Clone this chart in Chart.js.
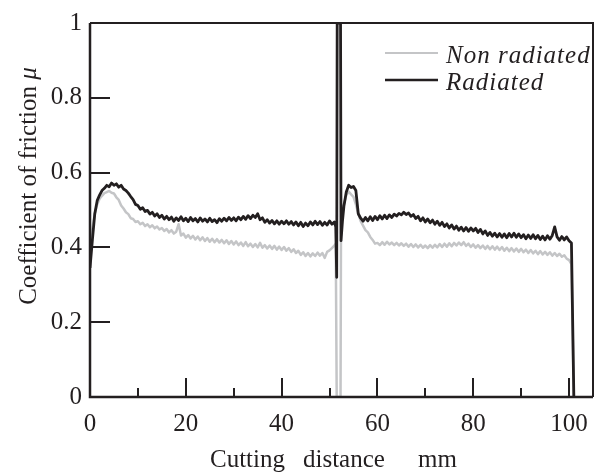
<!DOCTYPE html>
<html>
<head>
<meta charset="UTF-8">
<script src="https://cdn.jsdelivr.net/npm/chart.js@4.4.1/dist/chart.umd.min.js"></script>
<style>
  html, body { margin: 0; padding: 0; background: #fff; }
  #wrap { width: 602px; height: 473px; }
</style>
</head>
<body>
<div id="wrap"><canvas id="c" width="602" height="473"></canvas></div>
<script>
// cutting distance (mm)
const distance = [
  0, 0.5, 1, 1.5, 2, 2.5, 3, 3.5, 4, 4.5,
  5, 5.5, 6, 6.5, 7, 7.5, 8, 8.5, 9, 9.5,
  10, 10.5, 11, 11.5, 12, 12.5, 13, 13.5, 14, 14.5,
  15, 15.5, 16, 16.5, 17, 17.5, 18, 18.5, 19, 19.5,
  20, 20.5, 21, 21.5, 22, 22.5, 23, 23.5, 24, 24.5,
  25, 25.5, 26, 26.5, 27, 27.5, 28, 28.5, 29, 29.5,
  30, 30.5, 31, 31.5, 32, 32.5, 33, 33.5, 34, 34.5,
  35, 35.5, 36, 36.5, 37, 37.5, 38, 38.5, 39, 39.5,
  40, 40.5, 41, 41.5, 42, 42.5, 43, 43.5, 44, 44.5,
  45, 45.5, 46, 46.5, 47, 47.5, 48, 48.5, 49, 49.5,
  50, 50.5, 51,
  51.3, 51.5, 51.6, 52.3, 52.4, 52.7,
  53, 53.5, 54, 54.5, 55, 55.5, 56, 56.5, 57, 57.5,
  58, 58.5, 59, 59.5, 60, 60.5, 61, 61.5, 62, 62.5,
  63, 63.5, 64, 64.5, 65, 65.5, 66, 66.5, 67, 67.5,
  68, 68.5, 69, 69.5, 70, 70.5, 71, 71.5, 72, 72.5,
  73, 73.5, 74, 74.5, 75, 75.5, 76, 76.5, 77, 77.5,
  78, 78.5, 79, 79.5, 80, 80.5, 81, 81.5, 82, 82.5,
  83, 83.5, 84, 84.5, 85, 85.5, 86, 86.5, 87, 87.5,
  88, 88.5, 89, 89.5, 90, 90.5, 91, 91.5, 92, 92.5,
  93, 93.5, 94, 94.5, 95, 95.5, 96, 96.5, 97, 97.5,
  98, 98.5, 99, 99.5, 100, 100.5,
  101
]

// coefficient of friction, non radiated tool
const nonRadiated = [
  0.40, 0.45, 0.49, 0.515, 0.53, 0.538, 0.545, 0.548, 0.551, 0.546,
  0.544, 0.534, 0.527, 0.512, 0.504, 0.494, 0.489, 0.478, 0.476, 0.468,
  0.470, 0.462, 0.466, 0.457, 0.462, 0.454, 0.459, 0.451, 0.456, 0.448,
  0.452, 0.444, 0.449, 0.440, 0.446, 0.437, 0.442, 0.462, 0.432, 0.437,
  0.426, 0.433, 0.424, 0.431, 0.421, 0.429, 0.419, 0.427, 0.417, 0.425,
  0.415, 0.423, 0.414, 0.422, 0.413, 0.420, 0.411, 0.419, 0.409, 0.417,
  0.408, 0.416, 0.406, 0.413, 0.404, 0.414, 0.403, 0.410, 0.401, 0.409,
  0.400, 0.412, 0.399, 0.406, 0.397, 0.405, 0.396, 0.404, 0.394, 0.402,
  0.393, 0.401, 0.391, 0.398, 0.388, 0.395, 0.385, 0.391, 0.380, 0.387,
  0.377, 0.385, 0.376, 0.384, 0.377, 0.386, 0.378, 0.385, 0.372, 0.388,
  0.392, 0.398, 0.405,
  0.41, 0, 0, 0, 0.47, 0.49,
  0.515, 0.54, 0.549, 0.542, 0.535, 0.515, 0.49, 0.470, 0.458, 0.446,
  0.440, 0.428, 0.420, 0.410, 0.412, 0.406, 0.414, 0.407, 0.415, 0.408,
  0.413, 0.406, 0.412, 0.405, 0.411, 0.404, 0.410, 0.402, 0.409, 0.401,
  0.408, 0.400, 0.407, 0.399, 0.405, 0.398, 0.406, 0.399, 0.407, 0.400,
  0.409, 0.401, 0.410, 0.402, 0.411, 0.403, 0.412, 0.405, 0.413, 0.406,
  0.414, 0.404, 0.410, 0.401, 0.408, 0.399, 0.406, 0.398, 0.405, 0.396,
  0.404, 0.395, 0.403, 0.394, 0.402, 0.393, 0.401, 0.391, 0.399, 0.390,
  0.398, 0.389, 0.397, 0.388, 0.396, 0.387, 0.394, 0.385, 0.393, 0.384,
  0.391, 0.382, 0.390, 0.381, 0.388, 0.380, 0.387, 0.378, 0.385, 0.377,
  0.383, 0.375, 0.379, 0.370, 0.366, 0.355,
  0
]

// coefficient of friction, radiated tool
const radiated = [
  0.345, 0.42, 0.49, 0.525, 0.54, 0.552, 0.558, 0.566, 0.562, 0.572,
  0.566, 0.570, 0.561, 0.566, 0.556, 0.552, 0.545, 0.536, 0.528, 0.515,
  0.512, 0.502, 0.506, 0.496, 0.499, 0.489, 0.494, 0.484, 0.490, 0.480,
  0.486, 0.476, 0.483, 0.474, 0.481, 0.470, 0.479, 0.472, 0.482, 0.471,
  0.478, 0.469, 0.480, 0.471, 0.477, 0.468, 0.479, 0.470, 0.476, 0.468,
  0.478, 0.469, 0.474, 0.466, 0.477, 0.470, 0.478, 0.471, 0.480, 0.472,
  0.479, 0.471, 0.481, 0.474, 0.483, 0.475, 0.485, 0.477, 0.486, 0.480,
  0.490, 0.474, 0.479, 0.467, 0.474, 0.465, 0.472, 0.463, 0.471, 0.462,
  0.470, 0.463, 0.471, 0.462, 0.469, 0.460, 0.468, 0.458, 0.467, 0.456,
  0.465, 0.458, 0.468, 0.460, 0.470, 0.461, 0.469, 0.459, 0.467, 0.460,
  0.471, 0.462, 0.468,
  0.455, 0.32, 1.0, 1.0, 0.418, 0.47,
  0.51, 0.548, 0.566, 0.560, 0.563, 0.552, 0.49, 0.478, 0.470, 0.480,
  0.471, 0.482, 0.472, 0.483, 0.474, 0.485, 0.476, 0.486, 0.477, 0.487,
  0.480, 0.489, 0.484, 0.491, 0.487, 0.494, 0.488, 0.492, 0.483, 0.488,
  0.477, 0.483, 0.471, 0.479, 0.468, 0.476, 0.466, 0.473, 0.462, 0.470,
  0.459, 0.467, 0.456, 0.463, 0.452, 0.460, 0.449, 0.457, 0.446, 0.454,
  0.444, 0.453, 0.443, 0.452, 0.444, 0.451, 0.440, 0.448, 0.436, 0.444,
  0.432, 0.440, 0.430, 0.438, 0.428, 0.437, 0.427, 0.436, 0.426, 0.437,
  0.428, 0.438, 0.427, 0.436, 0.426, 0.434, 0.423, 0.433, 0.424, 0.434,
  0.423, 0.432, 0.421, 0.430, 0.420, 0.431, 0.422, 0.432, 0.455, 0.428,
  0.419, 0.429, 0.420, 0.428, 0.418, 0.412,
  0
]

const seriesNames = ['Non radiated', 'Radiated']
const yTicks = [0, 0.2, 0.4, 0.6, 0.8, 1]
const xMajor = [20, 40, 60, 80, 100]
const xMinor = [10, 30, 50, 70, 90]

const INK = '#231f20'
const GREY = '#c4c5c7'
const FONT = "'Liberation Serif', 'Times New Roman', serif"

const pts = ys => ys.map((y, i) => ({ x: distance[i], y }))

// frame, inward ticks, legend and axis titles
const decor = {
  id: 'decor',
  afterDraw(chart) {
    const { ctx, chartArea: a, scales: { x, y } } = chart
    ctx.save()
    ctx.strokeStyle = INK
    ctx.lineCap = 'butt'

    // box
    ctx.lineWidth = 2
    ctx.beginPath()
    ctx.moveTo(a.left, a.top); ctx.lineTo(a.right, a.top); ctx.lineTo(a.right, a.bottom)
    ctx.stroke()
    ctx.lineWidth = 2.5
    ctx.beginPath()
    ctx.moveTo(a.left, a.top); ctx.lineTo(a.left, a.bottom); ctx.lineTo(a.right, a.bottom)
    ctx.stroke()

    ctx.lineWidth = 2
    ctx.beginPath()
    yTicks.slice(1, -1).forEach(v => {
      const py = Math.round(y.getPixelForValue(v))
      ctx.moveTo(a.left, py); ctx.lineTo(a.left + 20, py)
    })
    xMajor.forEach(v => {
      const px = Math.round(x.getPixelForValue(v))
      ctx.moveTo(px, a.bottom); ctx.lineTo(px, a.bottom - 19)
    })
    xMinor.forEach(v => {
      const px = Math.round(x.getPixelForValue(v))
      ctx.moveTo(px, a.bottom); ctx.lineTo(px, a.bottom - 9)
    })
    ctx.stroke()

    // legend
    const lx = a.left + 295
    const rows = [[GREY, 2, 53], [INK, 2.5, 80]]
    rows.forEach(([col, w, ly], i) => {
      ctx.strokeStyle = col
      ctx.lineWidth = w
      ctx.beginPath()
      ctx.moveTo(lx, ly); ctx.lineTo(lx + 53, ly)
      ctx.stroke()
      ctx.fillStyle = INK
      ctx.font = 'italic 25px ' + FONT
      ctx.letterSpacing = '1px'
      ctx.textBaseline = 'alphabetic'
      ctx.textAlign = 'left'
      ctx.fillText(seriesNames[i], lx + 61, ly + 10)
      ctx.letterSpacing = '0px'
    })

    // axis titles
    ctx.fillStyle = INK
    ctx.font = '25px ' + FONT
    ctx.textBaseline = 'alphabetic'
    ctx.textAlign = 'left'
    ctx.fillText('Cutting', 210, 467)
    ctx.fillText('distance', 303, 467)
    ctx.fillText('mm', 418, 467)

    ctx.translate(36, 186)
    ctx.rotate(-Math.PI / 2)
    const t1 = 'Coefficient of friction '
    const w1 = ctx.measureText(t1).width
    ctx.font = 'italic 25px ' + FONT
    const w2 = ctx.measureText('\u03bc').width
    ctx.font = '25px ' + FONT
    ctx.fillText(t1, -(w1 + w2) / 2, 0)
    ctx.font = 'italic 25px ' + FONT
    ctx.fillText('\u03bc', -(w1 + w2) / 2 + w1, 0)
    ctx.restore()
  }
}

new Chart(document.getElementById('c'), {
  type: 'line',
  data: {
    datasets: [
      { label: seriesNames[0], data: pts(nonRadiated), borderColor: GREY, borderWidth: 2.5, order: 1 },
      { label: seriesNames[1], data: pts(radiated), borderColor: INK, borderWidth: 2.8, order: 0 }
    ]
  },
  options: {
    responsive: false,
    animation: false,
    devicePixelRatio: 1,
    layout: { padding: { top: 20, right: 9, left: 0, bottom: 0 } },
    elements: { point: { radius: 0 }, line: { tension: 0, borderJoinStyle: 'round' } },
    plugins: { legend: { display: false }, tooltip: { enabled: false } },
    scales: {
      x: {
        type: 'linear', min: 0, max: 105,
        grid: { display: false, drawTicks: false },
        border: { display: false },
        afterFit: s => { s.height = 76 },
        ticks: {
          stepSize: 20, includeBounds: false, padding: 12, maxRotation: 0,
          color: INK, font: { family: FONT, size: 25 }
        }
      },
      y: {
        min: 0, max: 1,
        grid: { display: false, drawTicks: false },
        border: { display: false },
        afterFit: s => { s.width = 90 },
        ticks: {
          stepSize: 0.2, padding: 8,
          color: INK, font: { family: FONT, size: 25 },
          callback: v => String(+v.toFixed(1))
        }
      }
    }
  },
  plugins: [decor]
})
</script>
</body>
</html>
